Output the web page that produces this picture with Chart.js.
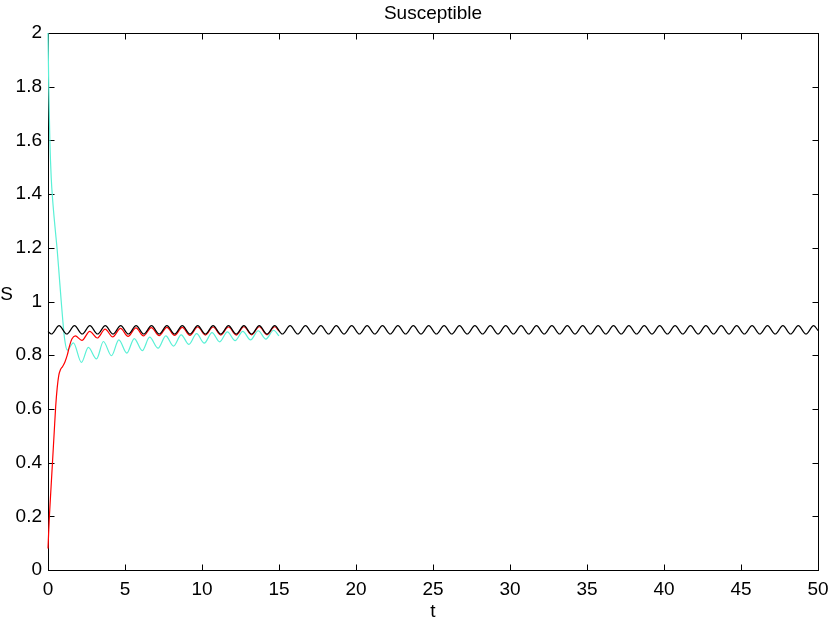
<!DOCTYPE html>
<html><head><meta charset="utf-8">
<script src="https://cdn.jsdelivr.net/npm/chart.js@4"></script>
<style>html,body{margin:0;padding:0;background:#fff}#wrap{width:830px;height:625px}</style>
</head><body><div id="wrap"><canvas id="c" width="830" height="625"></canvas></div>
<script>
const chartTitle = 'Susceptible';
const xLabel = 't';
const yLabel = 'S';
const xTicks = [0, 5, 10, 15, 20, 25, 30, 35, 40, 45, 50];
const xTickLabels = ['0', '5', '10', '15', '20', '25', '30', '35', '40', '45', '50'];
const yTicks = [0, 0.2, 0.4, 0.6, 0.8, 1, 1.2, 1.4, 1.6, 1.8, 2];
const yTickLabels = ['0', '0.2', '0.4', '0.6', '0.8', '1', '1.2', '1.4', '1.6', '1.8', '2'];

// black: periodic solution (troughs and peaks)
const tBlack = [0, 0.22, 0.72, 1.22, 1.72, 2.22, 2.72, 3.22, 3.72, 4.22, 4.72, 5.22, 5.72, 6.22, 6.72, 7.22, 7.72, 8.22, 8.72, 9.22, 9.72,
  10.22, 10.72, 11.22, 11.72, 12.22, 12.72, 13.22, 13.72, 14.22, 14.72, 15.22, 15.72, 16.22, 16.72, 17.22, 17.72, 18.22, 18.72, 19.22, 19.72,
  20.22, 20.72, 21.22, 21.72, 22.22, 22.72, 23.22, 23.72, 24.22, 24.72, 25.22, 25.72, 26.22, 26.72, 27.22, 27.72, 28.22, 28.72, 29.22, 29.72,
  30.22, 30.72, 31.22, 31.72, 32.22, 32.72, 33.22, 33.72, 34.22, 34.72, 35.22, 35.72, 36.22, 36.72, 37.22, 37.72, 38.22, 38.72, 39.22, 39.72,
  40.22, 40.72, 41.22, 41.72, 42.22, 42.72, 43.22, 43.72, 44.22, 44.72, 45.22, 45.72, 46.22, 46.72, 47.22, 47.72, 48.22, 48.72, 49.22, 49.72, 50];
const sBlack = [0.888,
  0.879, 0.910, 0.879, 0.910, 0.879, 0.910, 0.879, 0.910, 0.879, 0.910, 0.879, 0.910, 0.879, 0.910, 0.879, 0.910, 0.879, 0.910, 0.879, 0.910,
  0.879, 0.910, 0.879, 0.910, 0.879, 0.910, 0.879, 0.910, 0.879, 0.910, 0.879, 0.910, 0.879, 0.910, 0.879, 0.910, 0.879, 0.910, 0.879, 0.910,
  0.879, 0.910, 0.879, 0.910, 0.879, 0.910, 0.879, 0.910, 0.879, 0.910, 0.879, 0.910, 0.879, 0.910, 0.879, 0.910, 0.879, 0.910, 0.879, 0.910,
  0.879, 0.910, 0.879, 0.910, 0.879, 0.910, 0.879, 0.910, 0.879, 0.910, 0.879, 0.910, 0.879, 0.910, 0.879, 0.910, 0.879, 0.910, 0.879, 0.910,
  0.879, 0.910, 0.879, 0.910, 0.879, 0.910, 0.879, 0.910, 0.879, 0.910, 0.879, 0.910, 0.879, 0.910, 0.879, 0.910, 0.879, 0.910, 0.879, 0.910,
  0.892];

// red: starts low
const tRed = [0, 0.05, 0.1, 0.2, 0.3, 0.4, 0.5, 0.6, 0.7, 0.8, 0.95, 1.1, 1.25, 1.4, 1.55, 1.77, 2.2, 2.71, 3.2, 3.71, 4.2, 4.71, 5.2, 5.71,
  6.2, 6.71, 7.22, 7.72, 8.22, 8.72, 9.22, 9.72, 10.22, 10.72, 11.22, 11.72, 12.22, 12.72, 13.22, 13.72, 14.22, 14.72, 15];
const sRed = [0.08, 0.15, 0.21, 0.31, 0.41, 0.51, 0.61, 0.68, 0.725, 0.745, 0.758, 0.775, 0.80, 0.835, 0.86, 0.872, 0.855, 0.889, 0.864, 0.897, 0.868, 0.900, 0.870, 0.902,
  0.872, 0.903, 0.873, 0.904, 0.874, 0.904, 0.874, 0.905, 0.875, 0.905, 0.875, 0.905, 0.875, 0.906, 0.876, 0.906, 0.876, 0.906, 0.890];

// cyan: starts high
const tCyan = [0, 0.05, 0.12, 0.21, 0.3, 0.45, 0.6, 0.75, 0.86, 0.96, 1.08, 1.25, 1.65, 2.17, 2.62, 3.15, 3.6, 4.12, 4.6, 5.12,
  5.6, 6.12, 6.6, 7.15, 7.65, 8.15, 8.65, 9.15, 9.65, 10.15, 10.65, 11.15, 11.65, 12.15, 12.65, 13.15, 13.65, 14.15, 14.65, 15];
const sCyan = [2.0, 1.8, 1.6, 1.46, 1.38, 1.28, 1.19, 1.08, 1.0, 0.93, 0.86, 0.819, 0.846, 0.773, 0.829, 0.786, 0.851, 0.798, 0.857, 0.808,
  0.862, 0.817, 0.867, 0.826, 0.872, 0.834, 0.876, 0.840, 0.880, 0.845, 0.884, 0.850, 0.887, 0.854, 0.889, 0.857, 0.891, 0.860, 0.893, 0.872];

const FONT = "'Liberation Sans', Arial, Helvetica, sans-serif";
const FS = 19;

function pts(ts, vs) { return ts.map((t, i) => ({x: t, y: vs[i]})); }

const framePlugin = {
  id: 'frame',
  beforeDatasetsDraw(chart) {
    const {ctx, chartArea: a, scales: {x, y}} = chart;
    ctx.save();
    ctx.strokeStyle = '#000';
    ctx.lineWidth = 1;
    const L = a.left + 0.5, R = a.right + 0.5, T = a.top + 0.5, B = a.bottom + 0.5;
    ctx.strokeRect(L, T, R - L, B - T);
    ctx.beginPath();
    xTicks.forEach(v => {
      const px = Math.round(x.getPixelForValue(v)) + 0.5;
      ctx.moveTo(px, B); ctx.lineTo(px, B - 6);
      ctx.moveTo(px, T); ctx.lineTo(px, T + 6);
    });
    yTicks.forEach(v => {
      const py = Math.round(y.getPixelForValue(v)) + 0.5;
      ctx.moveTo(L, py); ctx.lineTo(L + 6, py);
      ctx.moveTo(R, py); ctx.lineTo(R - 6, py);
    });
    ctx.stroke();
    ctx.restore();
  },
  afterDraw(chart) {
    const {ctx, chartArea: a} = chart;
    ctx.save();
    ctx.fillStyle = '#000';
    ctx.font = FS + 'px ' + FONT;
    ctx.textAlign = 'center';
    ctx.textBaseline = 'alphabetic';
    const cx = (a.left + a.right) / 2;
    ctx.fillText(chartTitle, cx, 19);
    ctx.fillText(xLabel, cx, 617);
    ctx.fillText(yLabel, 6.5, 299.5);
    ctx.restore();
  }
};

new Chart(document.getElementById('c'), {
  type: 'line',
  data: {
    datasets: [
      {data: pts(tBlack, sBlack), borderColor: '#000000', borderWidth: 1.2, pointRadius: 0, cubicInterpolationMode: 'monotone', fill: false, clip: false},
      {data: pts(tRed, sRed), borderColor: '#ff0000', borderWidth: 1.2, pointRadius: 0, cubicInterpolationMode: 'monotone', fill: false, clip: false},
      {data: pts(tCyan, sCyan), borderColor: '#5af0d6', borderWidth: 1.2, pointRadius: 0, cubicInterpolationMode: 'monotone', fill: false, clip: false}
    ]
  },
  options: {
    responsive: false,
    animation: false,
    devicePixelRatio: 1,
    layout: {padding: {left: 0, right: 12, top: 33, bottom: 0}},
    plugins: {legend: {display: false}, tooltip: {enabled: false}, title: {display: false}},
    scales: {
      x: {
        type: 'linear', min: 0, max: 50,
        afterBuildTicks(s) { s.ticks = xTicks.map(v => ({value: v})); },
        afterFit(s) { s.height = 55; s.paddingLeft = 0; s.paddingRight = 0; },
        grid: {display: false, drawTicks: false},
        border: {display: false},
        ticks: {autoSkip: false, maxRotation: 0, padding: 8, color: '#000', font: {family: FONT, size: FS},
          callback: (v, i) => xTickLabels[i]}
      },
      y: {
        type: 'linear', min: 0, max: 2,
        afterBuildTicks(s) { s.ticks = yTicks.map(v => ({value: v})); },
        afterFit(s) { s.width = 48; s.paddingTop = 0; s.paddingBottom = 0; },
        grid: {display: false, drawTicks: false},
        border: {display: false},
        ticks: {autoSkip: false, padding: 6, color: '#000', font: {family: FONT, size: FS},
          callback: (v, i) => yTickLabels[i]}
      }
    }
  },
  plugins: [framePlugin]
});
</script>
</body></html>
